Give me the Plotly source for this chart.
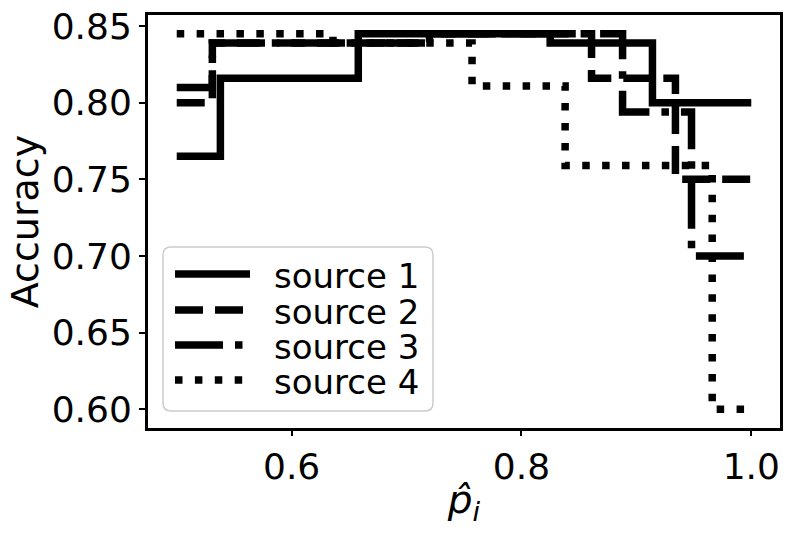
import plotly.graph_objects as go

# ---- data ----
series_names = ["source 1", "source 2", "source 3", "source 4"]

s1_x = [0.5, 0.538, 0.658, 0.825, 0.914, 1.0]
s1_y = [0.765, 0.816, 0.845, 0.839, 0.800, 0.800]

s2_x = [0.5, 0.531, 0.720, 0.861, 0.934, 1.0]
s2_y = [0.800, 0.839, 0.845, 0.816, 0.750, 0.750]

s3_x = [0.5, 0.531, 0.720, 0.888, 0.948, 1.0]
s3_y = [0.810, 0.839, 0.845, 0.794, 0.700, 0.700]

s4_x = [0.5, 0.636, 0.757, 0.838, 0.966, 1.0]
s4_y = [0.845, 0.839, 0.811, 0.759, 0.600, 0.600]

x_ticks = [0.6, 0.8, 1.0]
x_tick_labels = ["0.6", "0.8", "1.0"]
y_ticks = [0.60, 0.65, 0.70, 0.75, 0.80, 0.85]
y_tick_labels = ["0.60", "0.65", "0.70", "0.75", "0.80", "0.85"]

# ---- styles ----
LW = 7.5
dashes = ["solid", "28px,12px", "48px,12px,7.5px,12px", "7.5px,12.4px"]
FONT = "DejaVu Sans"

fig = go.Figure()
for xs, ys, name, dash in zip([s1_x, s2_x, s3_x, s4_x], [s1_y, s2_y, s3_y, s4_y],
                              series_names, dashes):
    fig.add_trace(go.Scatter(x=xs, y=ys, mode="lines", name=name,
                             line=dict(color="black", width=LW, dash=dash, shape="hv"),
                             showlegend=False))

# plot area in pixels
L, R, T, B = 148, 780, 15, 428
W, H = 797, 538
pw, ph = R - L, B - T

def px(x):
    return (x - L) / pw

def py(y):
    return (B - y) / ph

# custom legend (matplotlib-style)
bx0, bx1, by0, by1 = 163, 433, 247, 411
r = 8
rx, ry = r / pw, r / ph
X0, X1, Y0, Y1 = px(bx0), px(bx1), py(by1), py(by0)
path = (f"M{X0+rx},{Y0} L{X1-rx},{Y0} Q{X1},{Y0} {X1},{Y0+ry} "
        f"L{X1},{Y1-ry} Q{X1},{Y1} {X1-rx},{Y1} L{X0+rx},{Y1} "
        f"Q{X0},{Y1} {X0},{Y1-ry} L{X0},{Y0+ry} Q{X0},{Y0} {X0+rx},{Y0} Z")
fig.add_shape(type="path", path=path, xref="paper", yref="paper",
              line=dict(color="#cccccc", width=1.5), fillcolor="rgba(255,255,255,0.8)")

rows = [274, 310, 345, 380]
for name, dash, ry_ in zip(series_names, dashes, rows):
    fig.add_shape(type="line", xref="paper", yref="paper",
                  x0=px(175), x1=px(250), y0=py(ry_), y1=py(ry_),
                  line=dict(color="black", width=LW, dash=dash))
    fig.add_annotation(xref="paper", yref="paper", x=px(272), y=py(ry_ + 2),
                       text=name, showarrow=False, xanchor="left", yanchor="middle",
                       height=30, font=dict(family=FONT, size=34, color="black"))

fig.update_layout(
    width=W, height=H,
    margin=dict(l=L, r=W - R, t=T, b=H - B, autoexpand=False),
    paper_bgcolor="white", plot_bgcolor="white",
    font=dict(family=FONT, color="black"),
    showlegend=False,
)
fig.update_xaxes(range=[0.475, 1.025], tickvals=x_ticks, ticktext=x_tick_labels,
                 showgrid=False, zeroline=False, showline=True, linecolor="black",
                 linewidth=3, mirror=True, ticks="outside", ticklen=5, tickwidth=2,
                 tickcolor="black", tickfont=dict(size=36, family=FONT), automargin=False,
                 title=dict(text="<i>p̂</i><sub><i>i</i></sub>", font=dict(size=39, family=FONT),
                            standoff=0))
fig.update_yaxes(range=[0.58775, 0.85725], tickvals=y_ticks, ticktext=y_tick_labels,
                 showgrid=False, zeroline=False, showline=True, linecolor="black",
                 linewidth=3, mirror=True, ticks="outside", ticklen=6, tickwidth=2,
                 tickcolor="black", tickfont=dict(size=36, family=FONT), automargin=False,
                 title=dict(text="Accuracy", font=dict(size=38, family=FONT), standoff=2))

fig.write_html("out.html", config={"displayModeBar": False},
               post_script="document.body.style.margin='0';")
